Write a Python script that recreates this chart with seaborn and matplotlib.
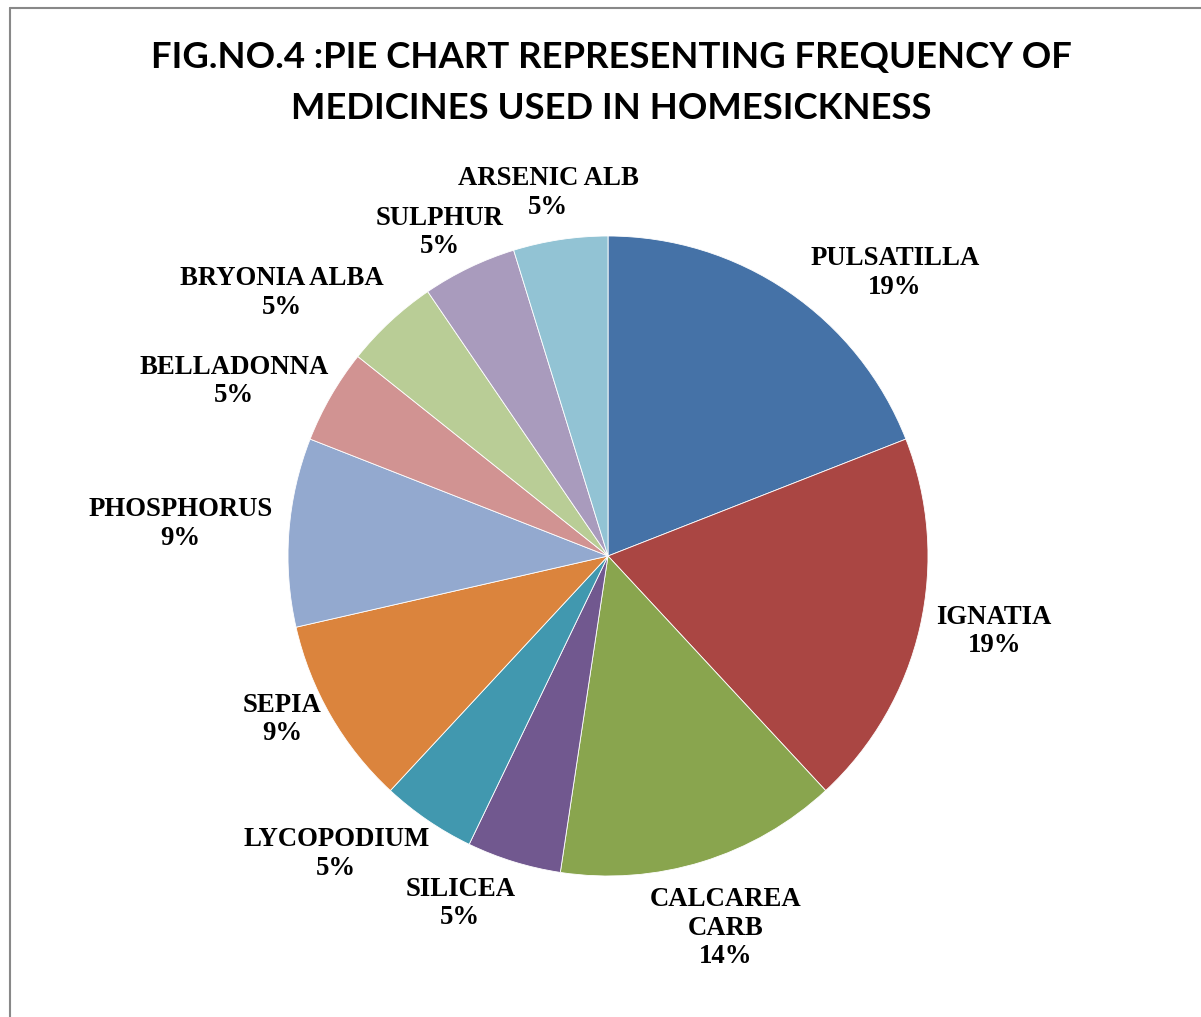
import numpy as np
import seaborn as sns
import matplotlib.pyplot as plt
from matplotlib.lines import Line2D

# Data: number of cases per medicine and the percentage printed on each label
medicines = ['PULSATILLA', 'IGNATIA', 'CALCAREA\nCARB', 'SILICEA', 'LYCOPODIUM', 'SEPIA',
             'PHOSPHORUS', 'BELLADONNA', 'BRYONIA ALBA', 'SULPHUR', 'ARSENIC ALB']
cases = [4, 4, 3, 1, 1, 2, 2, 1, 1, 1, 1]
percent_labels = ['19%', '19%', '14%', '5%', '5%', '9%', '9%', '5%', '5%', '5%', '5%']

# Excel 2007 default palette
slice_colors = ['#4572A7', '#AA4643', '#89A54E', '#71588F', '#4198AF', '#DB843D',
                '#93A9CF', '#D19392', '#B9CD96', '#A99BBD', '#92C3D4']

# Label placement tweaks (angle offset from wedge middle in degrees, radius as a fraction)
label_shift = [-11.1, 1.8, 0.4, -5.9, -8.1, -3.4, 0.0, 5.0, 8.3, 1.8, 0.8]
label_radius = [1.26, 1.23, 1.22, 1.18, 1.26, 1.14, 1.34, 1.29, 1.31, 1.14, 1.15]

W, H, DPI = 1201, 1017, 100
CX, CY, R = 608, 556, 320  # pie centre and radius in pixels (from top-left)

sns.set_theme(style='white')
palette = sns.color_palette(slice_colors)

fig = plt.figure(figsize=(W / DPI, H / DPI), dpi=DPI)
ax = fig.add_axes([0, 0, 1, 1])

wedges, _ = ax.pie(cases, colors=palette, startangle=90, counterclock=False,
                   wedgeprops=dict(edgecolor='white', linewidth=0.6))
ax.set_aspect('auto')
ax.set_xlim(-CX / R, (W - CX) / R)
ax.set_ylim(-(H - CY) / R, CY / R)
ax.axis('off')

for w, name, pct, shift, rad in zip(wedges, medicines, percent_labels, label_shift, label_radius):
    mid = np.radians((w.theta1 + w.theta2) / 2 + shift)
    ax.text(rad * np.cos(mid), rad * np.sin(mid), f'{name}\n{pct}', ha='center', va='center',
            family='Liberation Serif', fontweight='bold', fontsize=19.3, linespacing=1.18,
            color='black')

fig.text(611 / W, 1 - 83 / H, 'FIG.NO.4 :PIE CHART REPRESENTING FREQUENCY OF\nMEDICINES USED IN HOMESICKNESS',
         ha='center', va='center', family='Lato', fontweight='bold', fontsize=26.3, linespacing=1.7,
         color='black')

# Chart frame (cut off at the right and bottom edges)
fig.add_artist(Line2D([10 / W, 10 / W], [0, 1 - 8 / H], color='#888888', linewidth=1.5))
fig.add_artist(Line2D([10 / W, 1], [1 - 8 / H, 1 - 8 / H], color='#888888', linewidth=1.5))

fig.savefig('out.png', dpi=DPI)
